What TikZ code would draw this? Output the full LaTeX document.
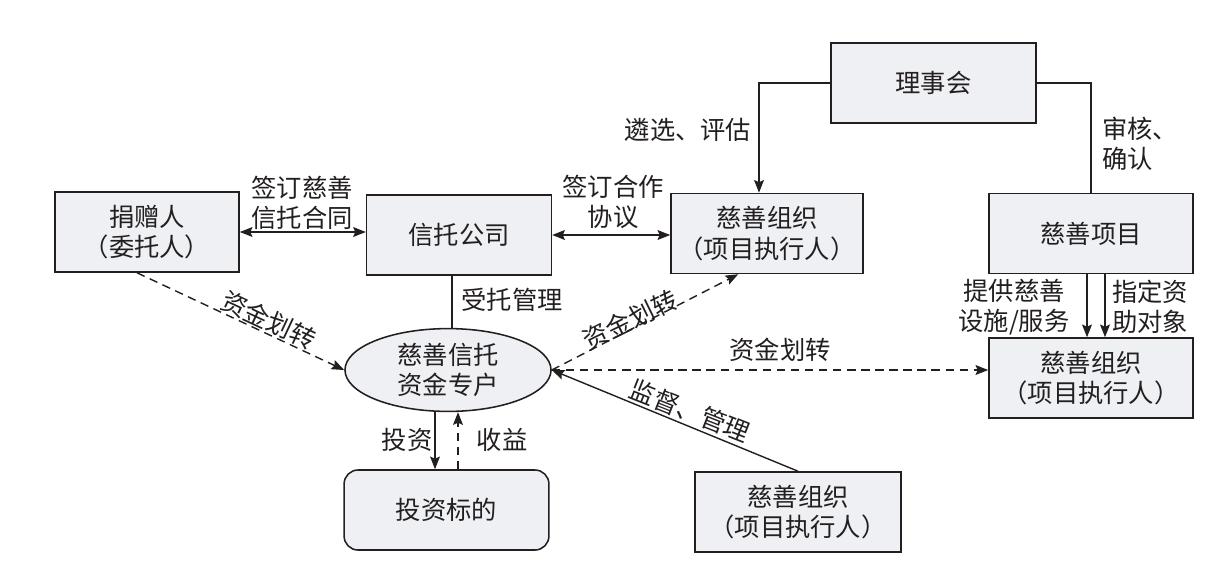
\documentclass[tikz,border=0pt]{standalone}
\usepackage{fontspec}
\setmainfont{Noto Sans CJK SC}
\usetikzlibrary{arrows.meta,shapes.geometric,calc}
\definecolor{ink}{HTML}{231F20}
\definecolor{boxfill}{HTML}{EEF0F4}
\tikzset{
  box/.style={draw=ink,line width=1.1pt,fill=boxfill,minimum width=4.6cm,minimum height=2cm,align=center,inner sep=0pt,text=ink},
  rbox/.style={box,rounded corners=0.35cm},
  oval/.style={ellipse,draw=ink,line width=1.1pt,fill=boxfill,minimum width=5.15cm,minimum height=2.07cm,align=center,inner sep=0pt,text=ink},
  conn/.style={draw=ink,line width=1pt},
  arr/.style={conn,-{Stealth[length=9pt,width=7pt,inset=1.5pt]}},
  darr/.style={conn,{Stealth[length=9pt,width=7pt,inset=1.5pt]}-{Stealth[length=9pt,width=7pt,inset=1.5pt]}},
  dsh/.style={dash pattern=on 6pt off 4pt},
  lbl/.style={text=ink,align=center,inner sep=0pt}
}
\begin{document}
\begin{tikzpicture}[x=0.025cm,y=-0.025cm,font=\fontsize{18}{21.5}\selectfont]
\useasboundingbox (0,0) rectangle (1208,560);
% nodes
\node[box] (donor) at (147,232) {捐赠人\\（委托人）};
\node[box,minimum width=4.62cm] (trust) at (459,235) {信托公司};
\node[box,minimum width=4.8cm] (orgT) at (767,233.5) {慈善组织\\（项目执行人）};
\node[box,minimum width=5.12cm] (council) at (933.5,83) {理事会};
\node[box,minimum width=5.1cm] (proj) at (1091,233.5) {慈善项目};
\node[box,minimum width=5.1cm] (orgR) at (1091,378) {慈善组织\\（项目执行人）};
\node[oval] (acct) at (448,370) {慈善信托\\资金专户};
\node[rbox,minimum width=5.12cm] (invest) at (446.5,510) {投资标的};
\node[box,minimum width=5.15cm] (orgB) at (798,512) {慈善组织\\（项目执行人）};
% connectors
\draw[darr] (donor.east) -- (donor.east -| trust.west);
\draw[darr] (trust.east) -- (trust.east -| orgT.west);
\draw[arr] (council.west) -| ([xshift=-0.2cm]orgT.north);
\draw[conn] (council.east) -| (proj.north);
\draw[arr] ([xshift=-0.1cm]proj.south) -- ([xshift=-0.1cm]orgR.north);
\draw[arr] ([xshift=0.35cm]proj.south) -- ([xshift=0.35cm]orgR.north);
\draw[arr,dsh] ([xshift=-0.25cm]donor.south) -- (acct.west);
\draw[conn] ([xshift=-0.175cm]trust.south) -- ([xshift=-0.175cm]trust.south |- acct.north);
\draw[arr,dsh] (acct.east) -- ([xshift=-0.72cm]orgT.south);
\draw[arr,dsh] (acct.east) -- (acct.east -| orgR.west);
\draw[arr] (orgB.north) -- (acct.east);
\draw[arr] ([xshift=-0.325cm]acct.south) -- ([xshift=-0.325cm]acct.south |- invest.north);
\draw[arr,dsh] ([xshift=0.25cm]acct.south |- invest.north) -- ([xshift=0.25cm]acct.south);
% labels
\node[lbl] (l1) at (302,203) {签订慈善\\信托合同};
\node[lbl] (l2) at (613,202) {签订合作\\协议};
\node[lbl] (l3) at (688,130) {遴选、评估};
\node[lbl,align=left,anchor=west] (l4) at (1102,144) {审核、\\确认};
\node[lbl] (l5) at (1014,307) {提供慈善\\设施/服务};
\node[lbl,align=left] (l6) at (1150,307) {指定资\\助对象};
\node[lbl] (l7) at (512,300) {受托管理};
\node[lbl,rotate=-25] (l8) at (269,320) {资金划转};
\node[lbl,rotate=26] (l9) at (630,320) {资金划转};
\node[lbl] (l10) at (780,350) {资金划转};
\node[lbl,rotate=-21.6] (l11) at (690,411) {监督、管理};
\node[lbl] (l12) at (407,440) {投资};
\node[lbl] (l13) at (502,440) {收益};
\end{tikzpicture}
\end{document}
